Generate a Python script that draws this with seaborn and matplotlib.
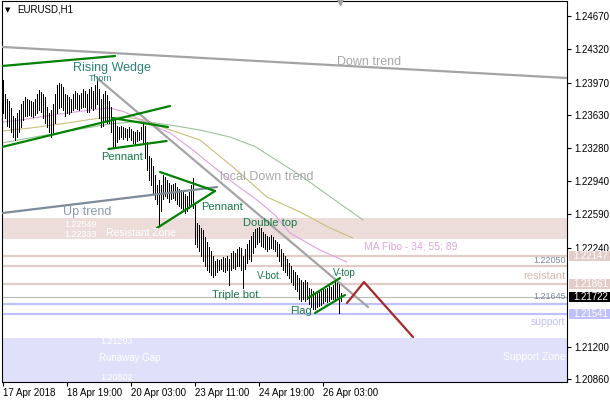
import matplotlib
matplotlib.use('Agg')
import matplotlib.pyplot as plt
import matplotlib.patches as mpatches
from matplotlib.transforms import blended_transform_factory
import pandas as pd
import seaborn as sns

sns.set_theme(style='white')
plt.rcParams['font.family'] = ['Liberation Sans', 'DejaVu Sans']

# ---------------- data (EURUSD H1 bars) ----------------
highs = [1.2400, 1.2385, 1.2380, 1.2378, 1.2370, 1.2362, 1.2360, 1.2365, 1.2368, 1.2375,
         1.2378, 1.2382, 1.2380, 1.2379, 1.2378, 1.2377, 1.2380, 1.2385, 1.2389, 1.2387,
         1.2385, 1.2382, 1.2372, 1.2365, 1.2368, 1.2375, 1.2385, 1.2395, 1.2397, 1.2396,
         1.2393, 1.2385, 1.2384, 1.2382, 1.2380, 1.2385, 1.2388, 1.2386, 1.2384, 1.2386,
         1.2390, 1.2388, 1.2385, 1.2390, 1.2392, 1.2388, 1.2395, 1.2403, 1.2390, 1.2380,
         1.2385, 1.2388, 1.2384, 1.2378, 1.2372, 1.2360, 1.2358, 1.2352, 1.2350, 1.2352,
         1.2350, 1.2349, 1.2348, 1.2350, 1.2348, 1.2346, 1.2345, 1.2347, 1.2345, 1.2350,
         1.2355, 1.2352, 1.2335, 1.2320, 1.2318, 1.2310, 1.2300, 1.2290, 1.2295, 1.2290,
         1.2300, 1.2298, 1.2295, 1.2292, 1.2290, 1.2291, 1.2292, 1.2288, 1.2285, 1.2284,
         1.2282, 1.2280, 1.2278, 1.2282, 1.2290, 1.2297, 1.2270, 1.2250, 1.2248, 1.2245,
         1.2242, 1.2235, 1.2230, 1.2225, 1.2220, 1.2215, 1.2210, 1.2212, 1.2211, 1.2212,
         1.2214, 1.2213, 1.2215, 1.2212, 1.2218, 1.2220, 1.2218, 1.2222, 1.2225, 1.2223,
         1.2215, 1.2222, 1.2228, 1.2232, 1.2236, 1.2240, 1.2243, 1.2244, 1.2246, 1.2244,
         1.2240, 1.2238, 1.2236, 1.2235, 1.2237, 1.2235, 1.2232, 1.2230, 1.2228, 1.2222,
         1.2218, 1.2215, 1.2212, 1.2208, 1.2205, 1.2200, 1.2198, 1.2195, 1.2192, 1.2190,
         1.2188, 1.2190, 1.2188, 1.2182, 1.2180, 1.2178, 1.2175, 1.2176, 1.2177, 1.2178,
         1.2180, 1.2181, 1.2182, 1.2184, 1.2183, 1.2185, 1.2188, 1.2190, 1.2186, 1.2176]
lows = [1.2365, 1.2360, 1.2352, 1.2350, 1.2345, 1.2340, 1.2337, 1.2340, 1.2345, 1.2350,
        1.2358, 1.2362, 1.2362, 1.2363, 1.2362, 1.2361, 1.2363, 1.2365, 1.2368, 1.2366,
        1.2360, 1.2355, 1.2350, 1.2345, 1.2340, 1.2345, 1.2355, 1.2365, 1.2370, 1.2372,
        1.2368, 1.2362, 1.2365, 1.2364, 1.2366, 1.2368, 1.2370, 1.2369, 1.2368, 1.2370,
        1.2372, 1.2371, 1.2366, 1.2366, 1.2370, 1.2368, 1.2370, 1.2375, 1.2360, 1.2350,
        1.2352, 1.2358, 1.2355, 1.2355, 1.2345, 1.2328, 1.2330, 1.2335, 1.2338, 1.2340,
        1.2338, 1.2340, 1.2337, 1.2340, 1.2337, 1.2334, 1.2333, 1.2336, 1.2337, 1.2338,
        1.2335, 1.2318, 1.2305, 1.2295, 1.2290, 1.2280, 1.2275, 1.2270, 1.2248, 1.2262,
        1.2275, 1.2278, 1.2276, 1.2272, 1.2275, 1.2276, 1.2274, 1.2270, 1.2268, 1.2266,
        1.2262, 1.2260, 1.2262, 1.2265, 1.2268, 1.2265, 1.2228, 1.2225, 1.2220, 1.2215,
        1.2210, 1.2205, 1.2200, 1.2198, 1.2195, 1.2193, 1.2195, 1.2198, 1.2200, 1.2201,
        1.2199, 1.2198, 1.2200, 1.2185, 1.2200, 1.2203, 1.2202, 1.2205, 1.2205, 1.2200,
        1.2182, 1.2202, 1.2208, 1.2212, 1.2210, 1.2218, 1.2225, 1.2228, 1.2230, 1.2226,
        1.2225, 1.2222, 1.2220, 1.2222, 1.2224, 1.2222, 1.2220, 1.2215, 1.2210, 1.2205,
        1.2200, 1.2198, 1.2195, 1.2192, 1.2188, 1.2185, 1.2180, 1.2178, 1.2170, 1.2168,
        1.2170, 1.2168, 1.2170, 1.2165, 1.2162, 1.2160, 1.2160, 1.2162, 1.2163, 1.2164,
        1.2166, 1.2168, 1.2167, 1.2168, 1.2170, 1.2170, 1.2168, 1.2172, 1.2155, 1.2168]
bar_idx = list(range(len(highs)))

time_tick_bars = [0, 32, 64, 96, 128, 160]
time_tick_labels = ['17 Apr 2018', '18 Apr 19:00', '20 Apr 03:00',
                    '23 Apr 11:00', '24 Apr 19:00', '26 Apr 03:00']
price_ticks = [1.24670, 1.24320, 1.23970, 1.23630, 1.23280, 1.22940,
               1.22590, 1.22240, 1.21200, 1.20860]

# Moving averages (MA Fibo 34; 55; 89)
ma34_bars = [-0.5, 8.5, 28.5, 43.5, 53.5, 61, 71, 83.5, 95, 106, 116, 127, 136, 143.5, 158.5, 172]
ma34_vals = [1.23557, 1.23578, 1.23641, 1.23683, 1.23704, 1.23662, 1.23557, 1.23442,
             1.23263, 1.23075, 1.22907, 1.22739, 1.22581, 1.22392, 1.22214, 1.22088]
ma55_bars = [-0.5, 13.5, 28.5, 48.5, 61, 71, 81, 98.5, 115, 132, 148.5, 163.5, 175]
ma55_vals = [1.23463, 1.23494, 1.23536, 1.23599, 1.23610, 1.23578, 1.23494, 1.23368,
             1.23085, 1.22770, 1.22613, 1.22445, 1.22340]
ma89_bars = [-0.5, 18.5, 38.5, 53.5, 68.5, 83.5, 98.5, 113.5, 126, 148.5, 168.5, 180]
ma89_vals = [1.23337, 1.23410, 1.23484, 1.23536, 1.23568, 1.23526, 1.23473, 1.23400,
             1.23300, 1.23000, 1.22700, 1.22530]

# Levels / zones
resistant_zone = [1.22333, 1.22549]
support_zone = [1.20802, 1.21293]
pink_levels = [1.22147, 1.22050, 1.21861]
blue_levels = [1.21645, 1.21541]
bid_price = 1.21722

# Trend lines (bar index, price)
down_trend = ([-0.5, 282], [1.24345, 1.24019])
local_down = ([47, 182.5], [1.24019, 1.21616])
up_trend = ([-0.5, 107], [1.22602, 1.22875])
wedge_upper = ([-0.5, 56], [1.24145, 1.24250])
wedge_lower = ([-0.5, 83.5], [1.23295, 1.23725])
pennant1_upper = ([54.5, 82.5], [1.23599, 1.23505])
pennant1_lower = ([52.7, 81.8], [1.23274, 1.23358])
pennant2_upper = ([78.5, 106], [1.23033, 1.22833])
pennant2_lower = ([77, 106], [1.22445, 1.22833])
flag_upper = ([152.5, 168.5], [1.21710, 1.21920])
flag_lower = ([156, 171], [1.21553, 1.21742])
forecast_path = ([172, 180.5, 205], [1.21658, 1.21878, 1.21301])

# ---------------- figure ----------------
W, H = 610, 400
fig = plt.figure(figsize=(W / 100, H / 100), dpi=100)
ax = fig.add_axes([2 / W, 18 / H, 565 / W, 380.5 / H])
ax.set_xlim(-0.5, 282)
ax.set_ylim(1.20829, 1.24822)
fig.patch.set_facecolor('white')
ax.set_facecolor('white')

# zones
ax.axhspan(resistant_zone[0], resistant_zone[1], color='#ECDDDA', lw=0, zorder=0)
ax.axhspan(support_zone[0], support_zone[1], color='#E0E0FB', lw=0, zorder=0)

# levels
for lv in pink_levels:
    ax.axhline(lv, color='#E2CCC8', lw=1.6, zorder=1)
for lv in blue_levels:
    ax.axhline(lv, color='#C0C0FF', lw=1.6, zorder=1)
ax.axhline(bid_price, color='#B8B8B8', lw=0.8, zorder=1)

# moving averages
sns.lineplot(x=ma89_bars, y=ma89_vals, color='#98C498', lw=0.8, ax=ax, zorder=2)
sns.lineplot(x=ma55_bars, y=ma55_vals, color='#C8BE78', lw=0.8, ax=ax, zorder=2)
sns.lineplot(x=ma34_bars, y=ma34_vals, color='#E0A0E0', lw=0.8, ax=ax, zorder=2)

# bars (crisp 1px like the terminal)
ax.vlines(bar_idx, lows, highs, color='black', lw=0.55, zorder=3,
          antialiased=False)

# trend lines
def tl(line, color, lw=1.5, z=4):
    sns.lineplot(x=line[0], y=line[1], color=color, lw=lw, ax=ax, zorder=z,
                 sort=False, estimator=None)

tl(down_trend, '#A4A4A4', 1.6)
tl(local_down, '#A4A4A4', 1.6)
tl(up_trend, '#7C8A9A', 1.6)
green = '#008000'
for ln in [wedge_upper, wedge_lower, pennant1_upper, pennant1_lower,
           pennant2_upper, pennant2_lower, flag_upper, flag_lower]:
    tl(ln, green, 1.6, 5)
tl(forecast_path, '#A52A2A', 1.6, 5)

# ---------------- texts ----------------
lab = '#17784A'
def t(x, y, s, color, size, ha='left', transform=None, z=6):
    ax.text(x, y, s, color=color, fontsize=size, ha=ha, va='center',
            transform=transform if transform is not None else ax.transData, zorder=z)

t(35, 1.24124, 'Rising Wedge', '#2A8277', 9)
t(43, 1.24009, 'Thorn', '#2A8277', 6.5)
t(167, 1.24187, 'Down trend', '#A8A8A8', 9)
t(49, 1.23190, 'Pennant', lab, 8)
t(108.5, 1.22980, 'local Down trend', '#A8A8A8', 9)
t(99, 1.22665, 'Pennant', lab, 8)
t(30, 1.22613, 'Up trend', '#8A9CB0', 9)
t(30.5, 1.22487, '1.22549', 'white', 6.5)
t(30.5, 1.22382, '1.22333', 'white', 6.5)
t(51.5, 1.22392, 'Resistant Zone', 'white', 7.5)
t(120, 1.22497, 'Double top', lab, 8)
t(127, 1.21941, 'V-bot.', lab, 7)
t(104.5, 1.21742, 'Triple bot.', lab, 8)
t(165, 1.21973, 'V-top', lab, 7)
t(143.5, 1.21574, 'Flag', lab, 8)
t(180.5, 1.22256, 'MA Fibo - 34; 55; 89', '#E0A8E0', 7.5)
t(48.5, 1.21259, '1.21293', 'white', 6.5)
t(48, 1.21080, 'Runaway Gap', 'white', 7)
t(48.5, 1.20881, '1.20802', 'white', 6.5)

bt = blended_transform_factory(ax.transAxes, ax.transData)
t(0.998, 1.22109, '1.22050', '#7C88A0', 6.5, ha='right', transform=bt)
t(0.997, 1.21941, 'resistant', '#D4B8B0', 8, ha='right', transform=bt)
t(0.998, 1.21721, '1.21645', '#7C88A0', 6.5, ha='right', transform=bt)
t(0.997, 1.21458, 'support', '#C0C0FF', 7.5, ha='right', transform=bt)
t(0.997, 1.21091, 'Support Zone', 'white', 7.5, ha='right', transform=bt)

# ---------------- axes styling ----------------
for sp in ax.spines.values():
    sp.set_color('black')
    sp.set_linewidth(0.8)
    sp.set_visible(True)
ax.yaxis.tick_right()
ax.set_yticks(price_ticks)
ax.set_yticklabels([f'{v:.5f}' for v in price_ticks])
ax.set_xticks(time_tick_bars)
ax.set_xticklabels(time_tick_labels, ha='left')
ax.tick_params(axis='y', which='both', direction='out', length=3, width=0.8,
               color='black', labelsize=7, pad=2, labelcolor='black', right=True, left=False)
ax.tick_params(axis='x', which='both', direction='out', length=3, width=0.8,
               color='black', labelsize=7, pad=1, labelcolor='black', bottom=True)
ax.set_xlabel('')
ax.set_ylabel('')
ax.grid(False)
leg = ax.get_legend()
if leg:
    leg.remove()

# price boxes on the right axis
boxes = [(1.22147, '#E2CCC8'), (1.21861, '#E2CCC8'), (1.21722, 'black'), (1.21541, '#C0C0FF')]
half = 5.0 * (1.24822 - 1.20829) / 380.5
for price, col in boxes:
    ax.add_patch(mpatches.Rectangle((1 + 1.5 / 565, price - half), 43 / 565, 2 * half,
                                    transform=bt, facecolor=col, edgecolor='none',
                                    clip_on=False, zorder=10))
    ax.text(1 + 6 / 565, price, f'{price:.5f}', transform=bt, color='white',
            fontsize=7, va='center', ha='left', clip_on=False, zorder=11)

# header and chart-shift marker
fig.text(5 / W, 1 - 10 / H, '\u25BC', fontsize=5, color='black', va='center',
         family='DejaVu Sans')
fig.text(17 / W, 1 - 10 / H, 'EURUSD,H1', fontsize=7, color='black', va='center')
ax.plot([168.5], [1.24822], marker='v', color='#A0A0A0', markersize=5,
        clip_on=False, zorder=12, transform=ax.transData)

fig.savefig('out.png', dpi=100, facecolor='white')
